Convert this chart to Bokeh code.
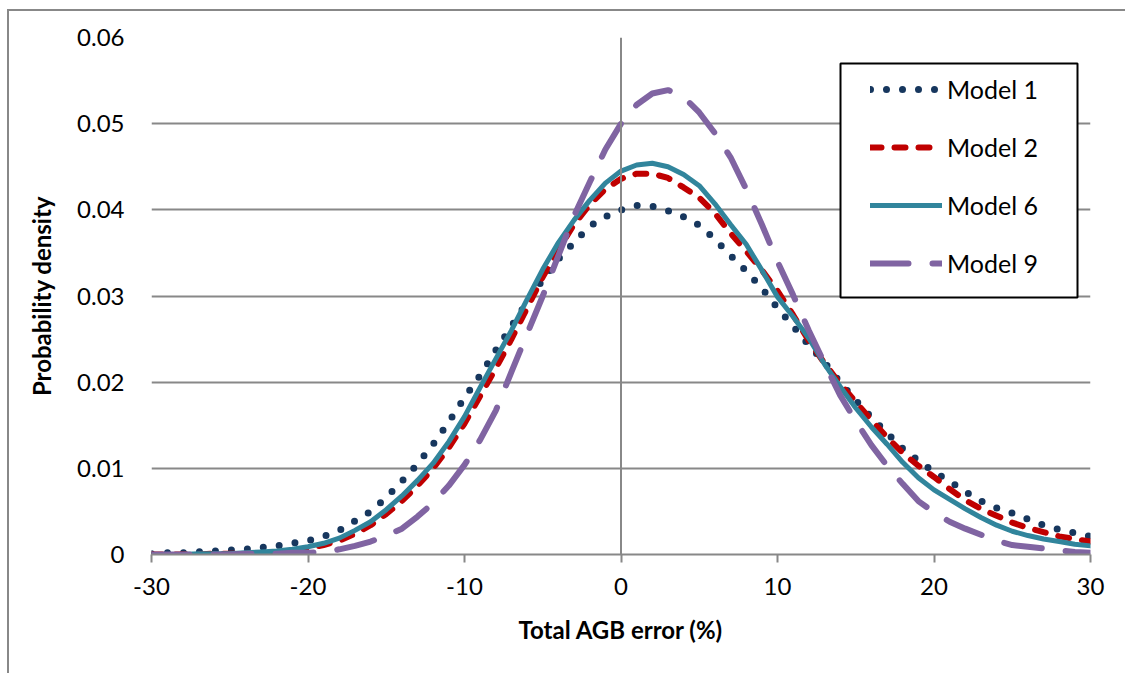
from bokeh.plotting import figure
from bokeh.models import (Range1d, FixedTicker, CustomJSTickFormatter, Span, Legend,
                          LegendItem, BoxAnnotation)
from bokeh.embed import file_html
from bokeh.resources import INLINE

# ---------------- data ----------------
x_values = list(range(-30, 31))

model1 = [0.0001, 0.0002, 0.0002, 0.0003, 0.0004, 0.0005, 0.0006, 0.0008, 0.0010, 0.0013,
          0.0016, 0.0021, 0.0028, 0.0039, 0.0050, 0.0066, 0.0085, 0.0105, 0.0128, 0.0154,
          0.0182, 0.0208, 0.0237, 0.0265, 0.0293, 0.0319, 0.0343, 0.0362, 0.0381, 0.0392,
          0.0400, 0.0405, 0.0404, 0.0399, 0.0392, 0.0382, 0.0366, 0.0347, 0.0329, 0.0309,
          0.0286, 0.0265, 0.0243, 0.0223, 0.0200, 0.0179, 0.0159, 0.0141, 0.0123, 0.0109,
          0.0096, 0.0085, 0.0073, 0.0062, 0.0054, 0.0048, 0.0041, 0.0034, 0.0029, 0.0025,
          0.0021]

model2 = [0.0000, 0.0000, 0.0000, 0.0000, 0.0001, 0.0001, 0.0001, 0.0002, 0.0003, 0.0005,
          0.0007, 0.0011, 0.0016, 0.0024, 0.0034, 0.0047, 0.0062, 0.0080, 0.0100, 0.0124,
          0.0152, 0.0184, 0.0216, 0.0250, 0.0286, 0.0322, 0.0354, 0.0383, 0.0406, 0.0424,
          0.0436, 0.0442, 0.0442, 0.0437, 0.0426, 0.0414, 0.0396, 0.0373, 0.0352, 0.0330,
          0.0306, 0.0278, 0.0248, 0.0222, 0.0198, 0.0177, 0.0156, 0.0136, 0.0118, 0.0103,
          0.0090, 0.0076, 0.0063, 0.0053, 0.0045, 0.0037, 0.0031, 0.0026, 0.0021, 0.0018,
          0.0015]

model6 = [0.0000, 0.0000, 0.0000, 0.0001, 0.0001, 0.0001, 0.0002, 0.0003, 0.0004, 0.0006,
          0.0009, 0.0013, 0.0019, 0.0028, 0.0038, 0.0052, 0.0068, 0.0086, 0.0106, 0.0131,
          0.0160, 0.0194, 0.0227, 0.0260, 0.0296, 0.0331, 0.0362, 0.0388, 0.0411, 0.0431,
          0.0445, 0.0452, 0.0454, 0.0450, 0.0441, 0.0428, 0.0407, 0.0383, 0.0360, 0.0330,
          0.0299, 0.0276, 0.0251, 0.0221, 0.0195, 0.0170, 0.0148, 0.0128, 0.0107, 0.0089,
          0.0075, 0.0064, 0.0053, 0.0043, 0.0034, 0.0027, 0.0022, 0.0018, 0.0015, 0.0012,
          0.0010]

model9 = [0.0000, 0.0000, 0.0000, 0.0000, 0.0000, 0.0000, 0.0001, 0.0001, 0.0001, 0.0002,
          0.0002, 0.0003, 0.0006, 0.0010, 0.0015, 0.0022, 0.0030, 0.0044, 0.0060, 0.0080,
          0.0104, 0.0133, 0.0167, 0.0212, 0.0256, 0.0300, 0.0347, 0.0393, 0.0432, 0.0470,
          0.0500, 0.0522, 0.0535, 0.0539, 0.0531, 0.0513, 0.0489, 0.0461, 0.0424, 0.0383,
          0.0340, 0.0301, 0.0260, 0.0222, 0.0185, 0.0155, 0.0127, 0.0103, 0.0082, 0.0062,
          0.0049, 0.0038, 0.0030, 0.0023, 0.0016, 0.0011, 0.0009, 0.0007, 0.0005, 0.0003,
          0.0002]

series_names = ["Model 1", "Model 2", "Model 6", "Model 9"]

x_ticks = [-30, -20, -10, 0, 10, 20, 30]
x_tick_labels = ["-30", "-20", "-10", "0", "10", "20", "30"]
y_ticks = [0.0, 0.01, 0.02, 0.03, 0.04, 0.05, 0.06]
y_tick_labels = ["0", "0.01", "0.02", "0.03", "0.04", "0.05", "0.06"]

# ---------------- figure ----------------
GRAY = "#888888"
FONT = "Lato"

# the figure is offset by 7/9 px with a grey left/top border (the chart-area border)
p = figure(width=1118, height=664, output_backend="svg", toolbar_location=None,
           x_range=Range1d(-30, 30), y_range=Range1d(0, 0.06))
p.styles = {"margin-left": "7px", "margin-top": "9px",
            "border-left": "2px solid #888888", "border-top": "2px solid #888888"}
p.min_border_left = 142
p.min_border_right = 37
p.min_border_top = 26
p.min_border_bottom = 121
p.outline_line_color = None
p.background_fill_color = "white"
p.border_fill_color = "white"

fmt_code = ("const i = tvals.findIndex(t => Math.abs(t - tick) < 1e-9);"
            " return i >= 0 ? tlabels[i] : '';")

xa = p.xaxis[0]
xa.ticker = FixedTicker(ticks=x_ticks)
xa.formatter = CustomJSTickFormatter(args=dict(tvals=x_ticks, tlabels=x_tick_labels), code=fmt_code)
xa.axis_line_color = GRAY
xa.axis_line_width = 2
xa.major_tick_line_color = GRAY
xa.major_tick_line_width = 2
xa.major_tick_out = 8
xa.major_tick_in = 0
xa.minor_tick_line_color = None
xa.major_label_text_font = FONT
xa.major_label_text_font_size = "24px"
xa.major_label_text_color = "black"
xa.major_label_standoff = 15
xa.axis_label = "Total AGB error (%)"
xa.axis_label_text_font = FONT
xa.axis_label_text_font_style = "bold"
xa.axis_label_text_font_size = "24px"
xa.axis_label_text_color = "black"
xa.axis_label_standoff = 17

ya = p.yaxis[0]
ya.ticker = FixedTicker(ticks=y_ticks)
ya.formatter = CustomJSTickFormatter(args=dict(tvals=y_ticks, tlabels=y_tick_labels), code=fmt_code)
ya.axis_line_color = None
ya.major_tick_line_color = None
ya.minor_tick_line_color = None
ya.major_tick_out = 0
ya.major_tick_in = 0
ya.major_label_text_font = FONT
ya.major_label_text_font_size = "24px"
ya.major_label_text_color = "black"
ya.major_label_standoff = 27
ya.axis_label = "Probability density"
ya.axis_label_text_font = FONT
ya.axis_label_text_font_style = "bold"
ya.axis_label_text_font_size = "24px"
ya.axis_label_text_color = "black"
ya.axis_label_standoff = 18

p.xgrid.grid_line_color = None
p.ygrid.grid_line_color = GRAY
p.ygrid.grid_line_width = 2

# vertical axis line crossing at x = 0
p.add_layout(Span(location=0, dimension="height", line_color=GRAY, line_width=2))

r1 = p.line(x_values, model1, line_color="#17375E", line_width=7, line_dash="0 16",
            line_cap="round")
r2 = p.line(x_values, model2, line_color="#C00000", line_width=6, line_dash="11 13",
            line_cap="round")
r6 = p.line(x_values, model6, line_color="#31859C", line_width=5, line_cap="round")
r9 = p.line(x_values, model9, line_color="#8064A2", line_width=6, line_dash="38 24",
            line_cap="round")

# legend frame (canvas pixels inside the figure)
p.add_layout(BoxAnnotation(left=829, right=1066, top=50, bottom=284,
                           left_units="canvas", right_units="canvas",
                           top_units="canvas", bottom_units="canvas",
                           fill_color="white", fill_alpha=1.0,
                           line_color="black", line_alpha=1.0, line_width=2))

legend = Legend(items=[LegendItem(label=n, renderers=[r]) for n, r in
                       zip(series_names, [r1, r2, r6, r9])],
                location=(719, 276), padding=0, margin=0, spacing=28,
                glyph_width=72, glyph_height=30, label_height=30, label_standoff=5,
                label_text_font=FONT, label_text_font_size="25px", label_text_color="black",
                border_line_color=None, background_fill_alpha=0.0)
p.add_layout(legend)

open("out.html", "w").write(file_html(p, INLINE))
